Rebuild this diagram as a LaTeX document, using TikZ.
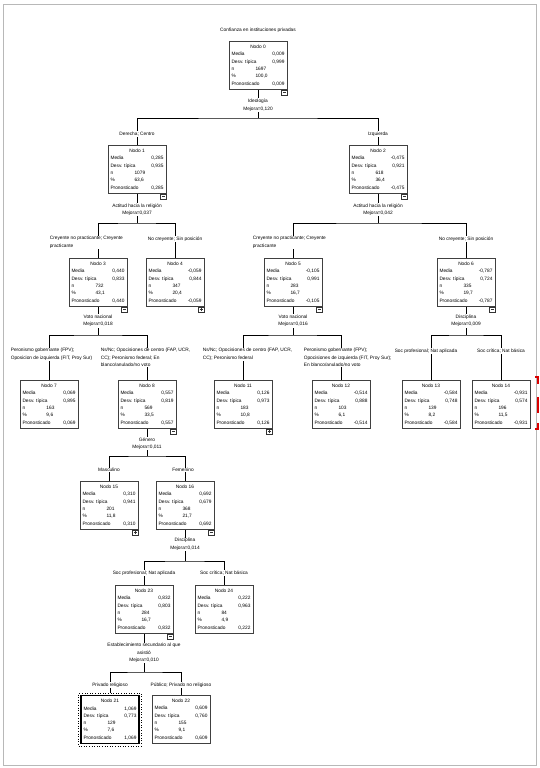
\documentclass[tikz,border=0pt]{standalone}
\usepackage{fontspec}
\setmainfont{Liberation Sans}
\usetikzlibrary{fit}
\newcommand{\smfnt}{\fontsize{4.8}{7.3}\selectfont}
\newcommand{\lblfnt}{\fontsize{4.8}{7.5}\selectfont}
\newlength{\bxw}\setlength{\bxw}{53pt}
\newcommand{\rwside}[2]{\makebox[\bxw][l]{#1\hfill#2}}
\newcommand{\rwmid}[2]{\makebox[\bxw][l]{\makebox[24pt][l]{#1}#2}}
\newcommand{\nodetext}[6]{\makebox[\bxw][c]{#1}\\\rwside{Media}{#2}\\\rwside{Desv. típica}{#3}\\\rwmid{n}{#4}\\\rwmid{\%}{#5}\\\rwside{Pronosticado}{#6}}
\tikzset{
  tbox/.style={draw=black!75, fill=white, line width=0.7pt, inner xsep=2.5pt, inner ysep=2pt,
    minimum width=58pt, minimum height=48pt, align=left, anchor=north, font=\smfnt},
  lbl/.style={fill=white, inner sep=0.6pt, font=\lblfnt, align=center},
  lbll/.style={fill=white, inner sep=0.6pt, font=\lblfnt, align=left, anchor=north west},
  conn/.style={draw=black, line width=0.6pt},
  micon/.style={draw=black!80, fill=white, line width=0.5pt, minimum size=5.5pt, inner sep=0pt,
    anchor=north east,
    path picture={\draw[line width=0.5pt] ([xshift=-1.6pt]path picture bounding box.center) -- ([xshift=1.6pt]path picture bounding box.center);}},
  picon/.style={draw=black!80, fill=white, line width=0.5pt, minimum size=5.5pt, inner sep=0pt,
    anchor=north east,
    path picture={\draw[line width=0.5pt] ([xshift=-1.6pt]path picture bounding box.center) -- ([xshift=1.6pt]path picture bounding box.center);
                  \draw[line width=0.5pt] ([yshift=-1.6pt]path picture bounding box.center) -- ([yshift=1.6pt]path picture bounding box.center);}},
  frame/.style={draw=black!28, line width=0.8pt},
  redmark/.style={draw=red!85!black, line width=1.6pt}
}
\begin{document}
\begin{tikzpicture}[x=1pt,y=-1pt]
\useasboundingbox (0,0) rectangle (539,768);
\draw[frame] (3.5,4.5) rectangle (536.5,765.5);

\node[font=\lblfnt] (title) at (258,30) {Confianza en instituciones privadas};

% boxes
\node[tbox] (n0) at (258,41) {\nodetext{Nodo 0}{0,009}{0,999}{1697}{100,0}{0,009}};
\node[tbox] (n1) at (137,145) {\nodetext{Nodo 1}{0,285}{0,935}{1079}{63,6}{0,285}};
\node[tbox] (n2) at (378,145) {\nodetext{Nodo 2}{-0,475}{0,921}{618}{36,4}{-0,475}};
\node[tbox] (n3) at (98,258) {\nodetext{Nodo 3}{0,440}{0,833}{732}{43,1}{0,440}};
\node[tbox] (n4) at (175,258) {\nodetext{Nodo 4}{-0,059}{0,844}{347}{20,4}{-0,059}};
\node[tbox] (n5) at (293,258) {\nodetext{Nodo 5}{-0,105}{0,991}{283}{16,7}{-0,105}};
\node[tbox] (n6) at (466,258) {\nodetext{Nodo 6}{-0,787}{0,724}{335}{19,7}{-0,787}};
\node[tbox] (n7) at (49,380) {\nodetext{Nodo 7}{0,069}{0,895}{163}{9,6}{0,069}};
\node[tbox] (n8) at (147,380) {\nodetext{Nodo 8}{0,557}{0,819}{569}{33,5}{0,557}};
\node[tbox] (n11) at (243,380) {\nodetext{Nodo 11}{0,126}{0,973}{183}{10,8}{0,126}};
\node[tbox] (n12) at (341,380) {\nodetext{Nodo 12}{-0,514}{0,888}{103}{6,1}{-0,514}};
\node[tbox] (n13) at (431,380) {\nodetext{Nodo 13}{-0,584}{0,748}{139}{8,2}{-0,584}};
\node[tbox] (n14) at (501,380) {\nodetext{Nodo 14}{-0,931}{0,574}{196}{11,5}{-0,931}};
\node[tbox] (n15) at (109,481) {\nodetext{Nodo 15}{0,310}{0,941}{201}{11,8}{0,310}};
\node[tbox] (n16) at (185,481) {\nodetext{Nodo 16}{0,692}{0,679}{368}{21,7}{0,692}};
\node[tbox] (n23) at (144,585) {\nodetext{Nodo 23}{0,832}{0,803}{284}{16,7}{0,832}};
\node[tbox] (n24) at (224,585) {\nodetext{Nodo 24}{0,222}{0,963}{84}{4,9}{0,222}};
\node[tbox, draw=black, line width=1.1pt] (n21) at (110,695) {\nodetext{Nodo 21}{1,069}{0,773}{129}{7,6}{1,069}};
\node[tbox] (n22) at (181,695) {\nodetext{Nodo 22}{0,609}{0,760}{155}{9,1}{0,609}};
\node[draw=black, dotted, line width=0.6pt, inner sep=1.8pt, fit=(n21)] (n21f) {};

% split points
\coordinate (h0) at (258,118);
\coordinate (h1) at (137,223);
\coordinate (h2) at (378,223);
\coordinate (h3) at (98,335);
\coordinate (h5) at (293,335);
\coordinate (h6) at (466,335);
\coordinate (h8) at (147,456);
\coordinate (h16) at (185,561);
\coordinate (h23) at (144,672);

% connectors
\draw[conn] (n0.south) -- (h0);  \draw[conn] (n1.north) |- (h0) -| (n2.north);
\draw[conn] (n1.south) -- (h1);  \draw[conn] (n3.north) |- (h1) -| (n4.north);
\draw[conn] (n2.south) -- (h2);  \draw[conn] (n5.north) |- (h2) -| (n6.north);
\draw[conn] (n3.south) -- (h3);  \draw[conn] (n7.north) |- (h3) -| (n8.north);
\draw[conn] (n5.south) -- (h5);  \draw[conn] (n11.north) |- (h5) -| (n12.north);
\draw[conn] (n6.south) -- (h6);  \draw[conn] (n13.north) |- (h6) -| (n14.north);
\draw[conn] (n8.south) -- (h8);  \draw[conn] (n15.north) |- (h8) -| (n16.north);
\draw[conn] (n16.south) -- (h16);  \draw[conn] (n23.north) |- (h16) -| (n24.north);
\draw[conn] (n23.south) -- (h23);  \draw[conn] (n21f.north) |- (h23) -| (n22.north);

% icons
\node[micon] (i0) at (n0.south east) {};
\node[micon] (i1) at (n1.south east) {};
\node[micon] (i2) at (n2.south east) {};
\node[micon] (i3) at (n3.south east) {};
\node[picon] (i4) at (n4.south east) {};
\node[micon] (i5) at (n5.south east) {};
\node[micon] (i6) at (n6.south east) {};
\node[micon] (i8) at (n8.south east) {};
\node[picon] (i11) at (n11.south east) {};
\node[picon] (i15) at (n15.south east) {};
\node[micon] (i16) at (n16.south east) {};
\node[micon] (i23) at (n23.south east) {};

% split labels
\node[lbl] (s0) at (258,105) {Ideología\\Mejora=0,120};
\node[lbl] (s1) at (137,209.5) {Actitud hacia la religión\\Mejora=0,037};
\node[lbl] (s2) at (378,209.5) {Actitud hacia la religión\\Mejora=0,042};
\node[lbl] (s3) at (98,321) {Voto nacional\\Mejora=0,018};
\node[lbl] (s5) at (293,321) {Voto nacional\\Mejora=0,016};
\node[lbl] (s6) at (466,321) {Disciplina\\Mejora=0,009};
\node[lbl] (s8) at (147,443.5) {Género\\Mejora=0,011};
\node[lbl] (s16) at (185,544.5) {Disciplina\\Mejora=0,014};
\node[lbl] (s23) at (144,653) {Establecimiento secundario al que\\asistió\\Mejora=0,010};

% branch labels
\node[lbl] (b1) at (137,134) {Derecha; Centro};
\node[lbl] (b2) at (378,134) {Izquierda};
\node[lbll] (b3) at (49,235.5) {Creyente no practicante; Creyente\\practicante};
\node[lbl] (b4) at (175,239) {No creyente; Sin posición};
\node[lbll] (b5) at (252,235.5) {Creyente no practicante; Creyente\\practicante};
\node[lbl] (b6) at (466,239) {No creyente; Sin posición};
\node[lbll] (b7) at (10,347.5) {Peronismo gobernante (FPV);\\Oposicion de izquierda (FIT, Proy Sur)};
\node[lbll] (b8) at (100,347.5) {Ns/Nc; Opocisiones de centro (FAP, UCR,\\CC); Peronismo federal; En\\blanco/anulado/no voto};
\node[lbll] (b11) at (202,347.5) {Ns/Nc; Opocisiones de centro (FAP, UCR,\\CC); Peronismo federal};
\node[lbll] (b12) at (303,347.5) {Peronismo gobernante (FPV);\\Opocisiones de izquierda (FIT, Proy Sur);\\En blanco/anulado/no voto};
\node[lbl] (b13) at (426,351) {Soc profesional; Nat aplicada};
\node[lbl] (b14) at (501,351) {Soc crítica; Nat básica};
\node[lbl] (b15) at (109,470) {Masculino};
\node[lbl] (b16) at (183,470) {Femenino};
\node[lbl] (b23) at (144,573) {Soc profesional; Nat aplicada};
\node[lbl] (b24) at (224,573) {Soc crítica; Nat básica};
\node[lbl] (b21) at (110,685) {Privado religioso};
\node[lbl] (b22) at (181,685) {Público; Privado no religioso};

% red marks at right edge
\draw[redmark] (535,377) -- (538,377) -- (538,384);
\draw[redmark] (538,397) -- (538,413);
\draw[redmark] (538,423) -- (538,429) -- (535,429);
\end{tikzpicture}
\end{document}
